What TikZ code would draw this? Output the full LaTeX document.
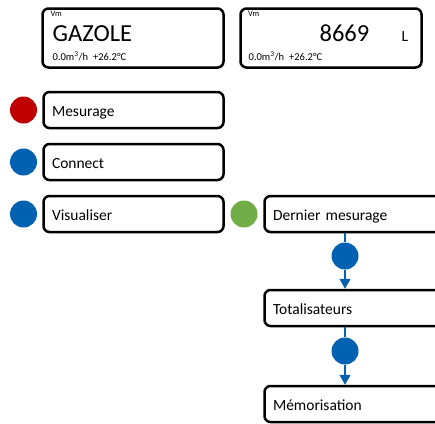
\documentclass[tikz,border=0pt]{standalone}
\usepackage{fontspec}
\setmainfont{Carlito}
\usetikzlibrary{arrows.meta}
\definecolor{mred}{HTML}{C00000}
\definecolor{mblue}{HTML}{0062B0}
\definecolor{mgreen}{HTML}{70AD47}
\tikzset{
  menubox/.style={draw, line width=2.5pt, rounded corners=6pt, minimum height=36pt,
    inner xsep=8.5pt, text width=163pt, text height=12pt, text depth=0pt, align=left,
    font=\fontsize{15.5}{18}\selectfont},
  dispbox/.style={draw, line width=2.5pt, rounded corners=6pt, minimum width=181pt, minimum height=59pt},
  vmtext/.style={inner sep=0pt, anchor=base west, font=\fontsize{8.3}{10}\selectfont},
  bigtext/.style={inner sep=0pt, font=\fontsize{24.5}{28}\selectfont},
  infotext/.style={inner sep=0pt, anchor=base west, font=\fontsize{10.5}{12}\selectfont},
  lamp/.style={circle, fill=#1, minimum size=27pt, inner sep=0pt},
  flow/.style={mblue, line width=1.3pt, -{Triangle[length=10pt,width=11pt]}},
}
\begin{document}
\begin{tikzpicture}[x=1pt,y=1pt]
\clip (0,0) rectangle (435,-423);
\node[dispbox] (aff1) at (133,-38) {};
\node[vmtext] (vm1) at (50.5,-16.5) {Vm};
\node[bigtext, anchor=base west] (prod) at (52.5,-41) {GAZOLE};
\node[infotext] (inf1) at (52.5,-60) {0.0m\textsuperscript{3}/h\hspace{5pt}+26.2°C};
\node[dispbox] (aff2) at (331,-38) {};
\node[vmtext] (vm2) at (248,-16.5) {Vm};
\node[bigtext, anchor=base east] (vol) at (369.5,-41) {8669};
\node[infotext, font=\fontsize{15.5}{18}\selectfont] (unit) at (401.5,-41.5) {L};
\node[infotext] (inf2) at (248.5,-60) {0.0m\textsuperscript{3}/h\hspace{5pt}+26.2°C};
\node[menubox] (mes) at (133.5,-110) {Mesurage};
\node[lamp=mred] (lmes) at (23.5,-110) {};
\node[menubox] (con) at (133.5,-162) {Connect};
\node[lamp=mblue] (lcon) at (23.5,-162) {};
\node[menubox] (vis) at (133.5,-214) {Visualiser};
\node[lamp=mblue] (lvis) at (23.5,-214) {};
\node[lamp=mgreen] (lder) at (244,-214) {};
\node[menubox, text width=190pt] (der) at (368,-214) {Dernier mesurage};
\node[menubox, text width=190pt] (tot) at (368,-308) {Totalisateurs};
\node[menubox, text width=190pt] (mem) at (368,-404) {Mémorisation};
\node[lamp=mblue] (k1) at (345,-256) {};
\node[lamp=mblue] (k2) at (345,-351) {};
\draw[mblue, line width=1.3pt] (k1 |- der.south) -- (k1.north);
\draw[flow] (k1.south) -- (k1 |- tot.north);
\draw[mblue, line width=1.3pt] (k2 |- tot.south) -- (k2.north);
\draw[flow] (k2.south) -- (k2 |- mem.north);
\end{tikzpicture}
\end{document}
